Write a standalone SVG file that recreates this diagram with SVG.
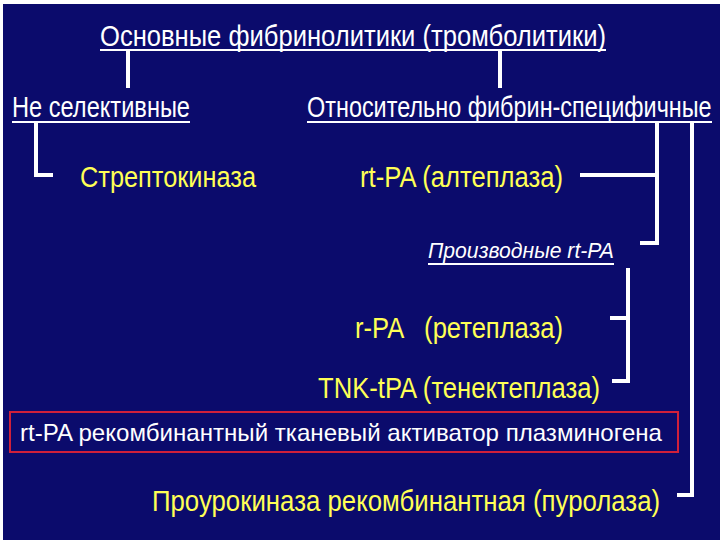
<svg xmlns="http://www.w3.org/2000/svg" width="720" height="540" viewBox="0 0 720 540">
<style>
.t{font-family:"Liberation Sans",Arial,sans-serif;font-size:30px}
.w{fill:#ffffff}
.y{fill:#ffff55}
.ln{stroke:#ffffff;stroke-width:4;fill:none}
.ul{stroke:#ffffff;stroke-width:2;fill:none}
</style>
<rect x="0" y="0" width="720" height="540" fill="#ffffff"/>
<rect x="3" y="4" width="717" height="536" fill="#0b0b6c"/>
<g id="connectors">
<line class="ln" x1="128" y1="50" x2="128" y2="88"/>
<line class="ln" x1="500" y1="50" x2="500" y2="88"/>
<polyline class="ln" points="36,122 36,175 53,175"/>
<line class="ln" x1="580" y1="175" x2="657" y2="175"/>
<polyline class="ln" points="657,122 657,243 640,243"/>
<polyline class="ln" points="692,122 692,495 677,495"/>
<polyline class="ln" points="610,318 628,318"/>
<polyline class="ln" points="628,268 628,381 612,381"/>
</g>
<g id="title">
<text class="t w" x="100" y="46" textLength="506" lengthAdjust="spacingAndGlyphs">Основные фибринолитики (тромболитики)</text>
<line class="ul" x1="100" y1="50" x2="606" y2="50"/>
</g>
<g id="nonselective">
<text class="t w" x="12" y="117" textLength="178" lengthAdjust="spacingAndGlyphs">Не селективные</text>
<line class="ul" x1="12" y1="122" x2="190" y2="122"/>
</g>
<g id="fibrin-specific">
<text class="t w" transform="translate(307,117) scale(0.72,1)" x="0" y="0" textLength="562" lengthAdjust="spacingAndGlyphs">Относительно фибрин-специфичные</text>
<line class="ul" x1="307" y1="122" x2="712" y2="122"/>
</g>
<g id="streptokinase">
<text class="t y" x="80" y="187" textLength="176" lengthAdjust="spacingAndGlyphs">Стрептокиназа</text>
</g>
<g id="alteplase">
<text class="t y" x="360" y="187" textLength="203" lengthAdjust="spacingAndGlyphs">rt-PA (алтеплаза)</text>
</g>
<g id="derivatives">
<text class="w" x="428" y="258" font-family="Liberation Sans, Arial, sans-serif" font-size="22" font-style="italic" textLength="186" lengthAdjust="spacingAndGlyphs">Производные rt-PA</text>
<line class="ul" x1="428" y1="264" x2="614" y2="264"/>
</g>
<g id="reteplase">
<text class="t y" x="355" y="338" textLength="208" lengthAdjust="spacingAndGlyphs" xml:space="preserve">r-PA   (ретеплаза)</text>
</g>
<g id="tenecteplase">
<text class="t y" x="318" y="398" textLength="282" lengthAdjust="spacingAndGlyphs">TNK-tPA (тенектеплаза)</text>
</g>
<g id="note">
<rect x="10" y="412" width="668" height="40" fill="none" stroke="#d0203a" stroke-width="2"/>
<text class="w" x="20" y="441" font-family="Liberation Sans, Arial, sans-serif" font-size="24" textLength="642" lengthAdjust="spacingAndGlyphs">rt-PA рекомбинантный тканевый активатор плазминогена</text>
</g>
<g id="prourokinase">
<text class="t y" transform="translate(152,511) scale(0.87,1)" x="0" y="0" textLength="584" lengthAdjust="spacingAndGlyphs">Проурокиназа рекомбинантная (пуролаза)</text>
</g>
</svg>
